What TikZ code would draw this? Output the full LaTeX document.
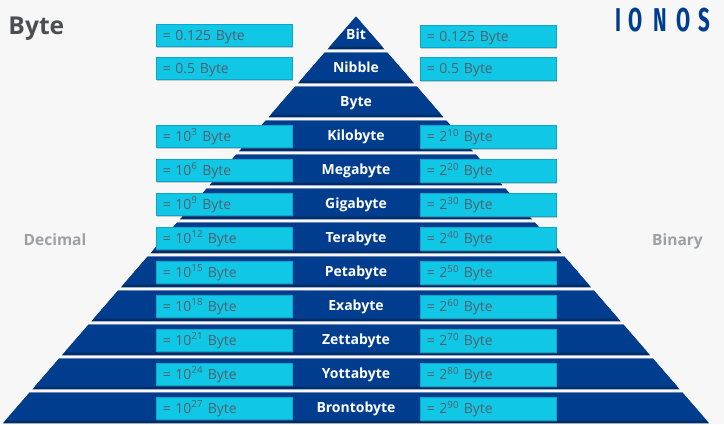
\documentclass[tikz,border=0pt]{standalone}
\usepackage{fontspec}
\setmainfont{Open Sans}
\newfontfamily\logofont{Fira Sans}
\usetikzlibrary{shadows}
\definecolor{bg}{HTML}{F7F7F7}
\definecolor{navy}{HTML}{003D8F}
\definecolor{navydark}{HTML}{002C6A}
\definecolor{cyanbox}{HTML}{11C7E6}
\definecolor{cyanedge}{HTML}{0AA6CC}
\definecolor{boxtext}{HTML}{50606E}
\definecolor{titlegray}{HTML}{4B4F54}
\definecolor{sidegray}{HTML}{9BA1A7}
\begin{document}
\begin{tikzpicture}[x=1pt,y=-1pt,
  rowlabel/.style={anchor=base, text=white, font=\fontsize{14}{16}\selectfont\bfseries, inner sep=0pt},
  valbox/.style={anchor=north west, fill=cyanbox, draw=cyanedge, line width=0.6pt,
    minimum width=136pt, minimum height=22.7pt, text width=122pt, align=left,
    inner xsep=7pt, inner ysep=0pt, text height=10pt, text depth=0pt,
    text=boxtext, font=\fontsize{14}{16}\selectfont,
    drop shadow={shadow xshift=1.3pt, shadow yshift=-1.5pt, opacity=0.35, fill=black!55}},
  sidelabel/.style={anchor=base, text=sidegray, font=\fontsize{15.5}{18}\selectfont\bfseries, inner sep=0pt},
  logoletter/.style={anchor=base, text=navy, inner sep=0pt, font=\fontsize{33}{36}\logofont\bfseries}
]
\useasboundingbox (0,0) rectangle (724,424);
\fill[bg] (0,0) rectangle (724,424);

% pyramid rows
\foreach \i in {0,...,11}{
  \pgfmathsetmacro{\rt}{18.7+34*\i}
  \pgfmathsetmacro{\yt}{(\i==0)*16.5+(\i>0)*\rt}
  \pgfmathsetmacro{\yb}{\rt+30.6}
  \pgfmathsetmacro{\ybb}{\yb-2.6}
  \pgfmathsetmacro{\xlt}{356-0.868*(\yt-16.5)}
  \pgfmathsetmacro{\xrt}{356+0.868*(\yt-16.5)}
  \pgfmathsetmacro{\xlb}{356-0.868*(\yb-16.5)}
  \pgfmathsetmacro{\xrb}{356+0.868*(\yb-16.5)}
  \pgfmathsetmacro{\xlbb}{356-0.868*(\ybb-16.5)}
  \pgfmathsetmacro{\xrbb}{356+0.868*(\ybb-16.5)}
  \fill[navydark] (\xlt,\yt) -- (\xrt,\yt) -- (\xrb,\yb) -- (\xlb,\yb) -- cycle;
  \fill[navy] (\xlt,\yt) -- (\xrt,\yt) -- (\xrbb,\ybb) -- (\xlbb,\ybb) -- cycle;
}

% row labels
\foreach \i/\nm/\lab in {0/bit/Bit,1/nibble/Nibble,2/byte/Byte,3/kilo/Kilobyte,4/mega/Megabyte,
  5/giga/Gigabyte,6/tera/Terabyte,7/peta/Petabyte,8/exa/Exabyte,9/zetta/Zettabyte,
  10/yotta/Yottabyte,11/bronto/Brontobyte}{
  \pgfmathsetmacro{\by}{18.7+34*\i+15.3+4.8+(\i==0)*0.5}
  \node[rowlabel] (lbl\nm) at (356,\by) {\lab};
}

% value boxes
\foreach \i/\lv/\rv in {
  0/{= 0.125 Byte}/{= 0.125 Byte},
  1/{= 0.5 Byte}/{= 0.5 Byte},
  3/{= 10\textsuperscript{3} Byte}/{= 2\textsuperscript{10} Byte},
  4/{= 10\textsuperscript{6} Byte}/{= 2\textsuperscript{20} Byte},
  5/{= 10\textsuperscript{9} Byte}/{= 2\textsuperscript{30} Byte},
  6/{= 10\textsuperscript{12} Byte}/{= 2\textsuperscript{40} Byte},
  7/{= 10\textsuperscript{15} Byte}/{= 2\textsuperscript{50} Byte},
  8/{= 10\textsuperscript{18} Byte}/{= 2\textsuperscript{60} Byte},
  9/{= 10\textsuperscript{21} Byte}/{= 2\textsuperscript{70} Byte},
  10/{= 10\textsuperscript{24} Byte}/{= 2\textsuperscript{80} Byte},
  11/{= 10\textsuperscript{27} Byte}/{= 2\textsuperscript{90} Byte}}{
  \pgfmathsetmacro{\bt}{18.7+34*\i+3.8+(\i==0)*1.2}
  \pgfmathsetmacro{\btr}{\bt+0.8}
  \node[valbox] (L\i) at (155.5,\bt) {\lv};
  \node[valbox] (R\i) at (419.5,\btr) {\rv};
}

% titles
\node[anchor=base west, inner sep=0pt, text=titlegray, font=\fontsize{24.6}{28}\selectfont\bfseries] (title) at (8.3,34.3) {Byte};
\node[sidelabel] (decimal) at (55,245.5) {Decimal};
\node[sidelabel] (binary) at (677.5,245.5) {Binary};

% logo
\node[logoletter] (logoI) at (618.8,31.7) {\scalebox{0.62}[1]{I}};
\node[logoletter] (logoO1) at (635.5,31.7) {\scalebox{0.62}[1]{O}};
\node[logoletter] (logoN) at (660.5,31.7) {\scalebox{0.62}[1]{N}};
\node[logoletter] (logoO2) at (683.3,31.7) {\scalebox{0.62}[1]{O}};
\node[logoletter] (logoS) at (704.2,31.7) {\scalebox{0.62}[1]{S}};
\end{tikzpicture}
\end{document}
